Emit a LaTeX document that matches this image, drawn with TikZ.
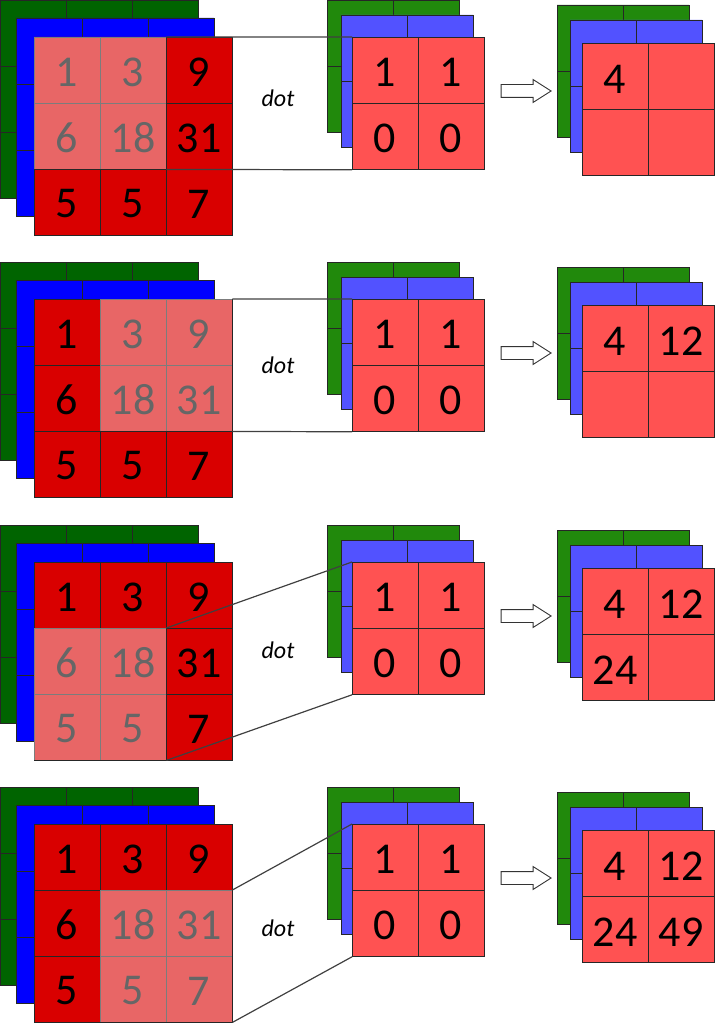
\documentclass[tikz,border=0pt]{standalone}
\usepackage{fontspec}
\setmainfont{Carlito}
\usetikzlibrary{shapes.arrows}
\definecolor{ingreen}{HTML}{006400}
\definecolor{inblue}{HTML}{0000FF}
\definecolor{inred}{HTML}{D90000}
\definecolor{kgreen}{HTML}{21890C}
\definecolor{kblue}{HTML}{5252FF}
\definecolor{kred}{HTML}{FF5252}
\definecolor{linkgray}{HTML}{404040}
\begin{document}
\begin{tikzpicture}[x=1pt,y=-1pt,
    layer/.style={draw=black!85,line width=0.8pt,step=66pt},
    sheet/.style={anchor=north west,minimum size=132pt,inner sep=0pt,draw=black!85,line width=0.8pt,fill=kred},
    hilite/.style={anchor=north west,minimum size=132pt,inner sep=0pt,fill=white,fill opacity=0.4},
    num/.style={font=\fontsize{44}{50}\selectfont,inner sep=0pt},
    optxt/.style={font=\fontsize{24}{28}\selectfont\itshape},
    link/.style={draw=linkgray,line width=1.2pt},
    hollow/.style={single arrow,draw=black!80,fill=white,line width=0.9pt,minimum height=50pt,
      inner sep=6pt,single arrow head extend=5pt,single arrow tip angle=65}]
    \useasboundingbox (0,0) rectangle (714,1024);
    % step 1
    \begin{scope}[shift={(0,0)}]
        \draw[layer,fill=ingreen] (0,198) rectangle (198,0) (0,198) grid (198,0);
        \draw[layer,fill=inblue,shift={(16,18)}] (0,198) rectangle (198,0) (0,198) grid (198,0);
        \draw[layer,fill=inred,shift={(34,37)}] (0,198) rectangle (198,0) (0,198) grid (198,0);
        \node[num] (p1a) at (67,72) {1}; \node[num] (p1b) at (133,72) {3}; \node[num] (p1c) at (199,72) {9};
        \node[num] (p1d) at (67,138) {6}; \node[num] (p1e) at (133,138) {18}; \node[num] (p1f) at (199,138) {31};
        \node[num] (p1g) at (67,204) {5}; \node[num] (p1h) at (133,204) {5}; \node[num] (p1i) at (199,204) {7};
        \node[hilite] (hl1) at (34,37) {};
        \draw[layer,fill=kgreen,shift={(327,0)}] (0,132) rectangle (132,0) (0,132) grid (132,0);
        \draw[layer,fill=kblue,shift={(341,15)}] (0,132) rectangle (132,0) (0,132) grid (132,0);
        \node[sheet] (ker1) at (352,37) {};
        \draw[layer] (ker1.north) -- (ker1.south) (ker1.west) -- (ker1.east);
        \node[num] at (385,72) {1}; \node[num] at (451,72) {1};
        \node[num] at (385,138) {0}; \node[num] at (451,138) {0};
        \draw[link] (hl1.north east) -- (ker1.north west) (hl1.south east) -- (ker1.south west);
        \node[optxt] (dot1) at (278,98) {dot};
        \node[hollow] (arr1) at (521,91) {};
        \draw[layer,fill=kgreen,shift={(557,5)}] (0,132) rectangle (132,0) (0,132) grid (132,0);
        \draw[layer,fill=kblue,shift={(570,20)}] (0,132) rectangle (132,0) (0,132) grid (132,0);
        \node[sheet] (out1) at (582,43) {};
        \draw[layer] (out1.north) -- (out1.south) (out1.west) -- (out1.east);
        \node[num] (o1a) at (615,79) {4};
    \end{scope}
    % step 2
    \begin{scope}[shift={(0,262)}]
        \draw[layer,fill=ingreen] (0,198) rectangle (198,0) (0,198) grid (198,0);
        \draw[layer,fill=inblue,shift={(16,18)}] (0,198) rectangle (198,0) (0,198) grid (198,0);
        \draw[layer,fill=inred,shift={(34,37)}] (0,198) rectangle (198,0) (0,198) grid (198,0);
        \node[num] (p2a) at (67,72) {1}; \node[num] (p2b) at (133,72) {3}; \node[num] (p2c) at (199,72) {9};
        \node[num] (p2d) at (67,138) {6}; \node[num] (p2e) at (133,138) {18}; \node[num] (p2f) at (199,138) {31};
        \node[num] (p2g) at (67,204) {5}; \node[num] (p2h) at (133,204) {5}; \node[num] (p2i) at (199,204) {7};
        \node[hilite] (hl2) at (100,37) {};
        \draw[layer,fill=kgreen,shift={(327,0)}] (0,132) rectangle (132,0) (0,132) grid (132,0);
        \draw[layer,fill=kblue,shift={(341,15)}] (0,132) rectangle (132,0) (0,132) grid (132,0);
        \node[sheet] (ker2) at (352,37) {};
        \draw[layer] (ker2.north) -- (ker2.south) (ker2.west) -- (ker2.east);
        \node[num] at (385,72) {1}; \node[num] at (451,72) {1};
        \node[num] at (385,138) {0}; \node[num] at (451,138) {0};
        \draw[link] (hl2.north east) -- (ker2.north west) (hl2.south east) -- (ker2.south west);
        \node[optxt] (dot2) at (278,103) {dot};
        \node[hollow] (arr2) at (521,91) {};
        \draw[layer,fill=kgreen,shift={(557,5)}] (0,132) rectangle (132,0) (0,132) grid (132,0);
        \draw[layer,fill=kblue,shift={(570,20)}] (0,132) rectangle (132,0) (0,132) grid (132,0);
        \node[sheet] (out2) at (582,43) {};
        \draw[layer] (out2.north) -- (out2.south) (out2.west) -- (out2.east);
        \node[num] (o2a) at (615,79) {4}; \node[num] (o2b) at (681,79) {12};
    \end{scope}
    % step 3
    \begin{scope}[shift={(0,525)}]
        \draw[layer,fill=ingreen] (0,198) rectangle (198,0) (0,198) grid (198,0);
        \draw[layer,fill=inblue,shift={(16,18)}] (0,198) rectangle (198,0) (0,198) grid (198,0);
        \draw[layer,fill=inred,shift={(34,37)}] (0,198) rectangle (198,0) (0,198) grid (198,0);
        \node[num] (p3a) at (67,72) {1}; \node[num] (p3b) at (133,72) {3}; \node[num] (p3c) at (199,72) {9};
        \node[num] (p3d) at (67,138) {6}; \node[num] (p3e) at (133,138) {18}; \node[num] (p3f) at (199,138) {31};
        \node[num] (p3g) at (67,204) {5}; \node[num] (p3h) at (133,204) {5}; \node[num] (p3i) at (199,204) {7};
        \node[hilite] (hl3) at (34,103) {};
        \draw[layer,fill=kgreen,shift={(327,0)}] (0,132) rectangle (132,0) (0,132) grid (132,0);
        \draw[layer,fill=kblue,shift={(341,15)}] (0,132) rectangle (132,0) (0,132) grid (132,0);
        \node[sheet] (ker3) at (352,37) {};
        \draw[layer] (ker3.north) -- (ker3.south) (ker3.west) -- (ker3.east);
        \node[num] at (385,72) {1}; \node[num] at (451,72) {1};
        \node[num] at (385,138) {0}; \node[num] at (451,138) {0};
        \draw[link] (hl3.north east) -- (ker3.north west) (hl3.south east) -- (ker3.south west);
        \node[optxt] (dot3) at (278,125) {dot};
        \node[hollow] (arr3) at (521,91) {};
        \draw[layer,fill=kgreen,shift={(557,5)}] (0,132) rectangle (132,0) (0,132) grid (132,0);
        \draw[layer,fill=kblue,shift={(570,20)}] (0,132) rectangle (132,0) (0,132) grid (132,0);
        \node[sheet] (out3) at (582,43) {};
        \draw[layer] (out3.north) -- (out3.south) (out3.west) -- (out3.east);
        \node[num] (o3a) at (615,79) {4}; \node[num] (o3b) at (681,79) {12};
        \node[num] (o3c) at (615,145) {24};
    \end{scope}
    % step 4
    \begin{scope}[shift={(0,787)}]
        \draw[layer,fill=ingreen] (0,198) rectangle (198,0) (0,198) grid (198,0);
        \draw[layer,fill=inblue,shift={(16,18)}] (0,198) rectangle (198,0) (0,198) grid (198,0);
        \draw[layer,fill=inred,shift={(34,37)}] (0,198) rectangle (198,0) (0,198) grid (198,0);
        \node[num] (p4a) at (67,72) {1}; \node[num] (p4b) at (133,72) {3}; \node[num] (p4c) at (199,72) {9};
        \node[num] (p4d) at (67,138) {6}; \node[num] (p4e) at (133,138) {18}; \node[num] (p4f) at (199,138) {31};
        \node[num] (p4g) at (67,204) {5}; \node[num] (p4h) at (133,204) {5}; \node[num] (p4i) at (199,204) {7};
        \node[hilite] (hl4) at (100,103) {};
        \draw[layer,fill=kgreen,shift={(327,0)}] (0,132) rectangle (132,0) (0,132) grid (132,0);
        \draw[layer,fill=kblue,shift={(341,15)}] (0,132) rectangle (132,0) (0,132) grid (132,0);
        \node[sheet] (ker4) at (352,37) {};
        \draw[layer] (ker4.north) -- (ker4.south) (ker4.west) -- (ker4.east);
        \node[num] at (385,72) {1}; \node[num] at (451,72) {1};
        \node[num] at (385,138) {0}; \node[num] at (451,138) {0};
        \draw[link] (hl4.north east) -- (ker4.north west) (hl4.south east) -- (ker4.south west);
        \node[optxt] (dot4) at (278,141) {dot};
        \node[hollow] (arr4) at (521,91) {};
        \draw[layer,fill=kgreen,shift={(557,5)}] (0,132) rectangle (132,0) (0,132) grid (132,0);
        \draw[layer,fill=kblue,shift={(570,20)}] (0,132) rectangle (132,0) (0,132) grid (132,0);
        \node[sheet] (out4) at (582,43) {};
        \draw[layer] (out4.north) -- (out4.south) (out4.west) -- (out4.east);
        \node[num] (o4a) at (615,79) {4}; \node[num] (o4b) at (681,79) {12};
        \node[num] (o4c) at (615,145) {24}; \node[num] (o4d) at (681,145) {49};
    \end{scope}
\end{tikzpicture}
\end{document}
